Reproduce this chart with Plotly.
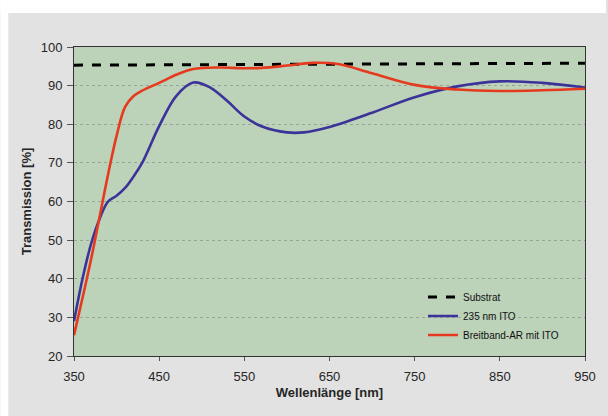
import plotly.graph_objects as go

# Data
substrat_nm = [350, 650, 950]
substrat_t = [95.3, 95.6, 95.8]

ito_nm = [350, 360, 370, 380, 390, 400, 410, 420, 430, 450, 470, 490, 510, 530,
          550, 570, 600, 620, 650, 700, 750, 800, 850, 900, 950]
ito_t = [29, 40, 49, 55.5, 60, 61.5, 63.5, 66.5, 70, 79.5, 87.3, 90.8, 89.5, 86,
         82, 79.5, 77.9, 77.9, 79.3, 83, 87, 89.8, 91.1, 90.7, 89.5]

ar_nm = [350, 370, 380, 390, 400, 410, 420, 430, 450, 470, 490, 520, 550, 570,
         600, 630, 660, 700, 750, 800, 850, 900, 950]
ar_t = [25.4, 45, 56, 67, 77, 84.5, 87.3, 88.7, 90.7, 92.8, 94.3, 94.7, 94.5, 94.6,
        95.2, 95.9, 95.6, 93.2, 90.2, 89, 88.6, 88.8, 89.2]

x_ticks = [350, 450, 550, 650, 750, 850, 950]
y_ticks = [20, 30, 40, 50, 60, 70, 80, 90, 100]

fig = go.Figure()
fig.add_trace(go.Scatter(x=substrat_nm, y=substrat_t, mode="lines", name="Substrat",
                         line=dict(color="black", width=3, dash="dash")))
fig.add_trace(go.Scatter(x=ito_nm, y=ito_t, mode="lines", name="235 nm ITO",
                         line=dict(color="#3b3399", width=2.6, shape="spline", smoothing=1.0)))
fig.add_trace(go.Scatter(x=ar_nm, y=ar_t, mode="lines", name="Breitband-AR mit ITO",
                         line=dict(color="#e63a1f", width=2.6, shape="spline", smoothing=1.0)))

L, R, T, B = 74, 21, 47, 60
W, H = 608, 416
pw = W - L - R
ph = H - T - B

# white bands (top and left) outside the plot area; rest of paper is gray
fig.add_shape(type="rect", xref="paper", yref="paper",
              x0=-L / pw, x1=(W - L) / pw,
              y0=(H - B - 13) / ph, y1=(H - B) / ph,
              fillcolor="white", line=dict(width=0), layer="below")
fig.add_shape(type="rect", xref="paper", yref="paper",
              x0=-L / pw, x1=(8 - L) / pw,
              y0=-B / ph, y1=(H - B) / ph,
              fillcolor="white", line=dict(width=0), layer="below")

fig.update_layout(
    width=W, height=H,
    margin=dict(l=L, r=R, t=T, b=B),
    paper_bgcolor="#e2e2e2",
    plot_bgcolor="#bcd3b9",
    font=dict(family="Liberation Sans, Arial, sans-serif", size=13, color="#262626"),
    showlegend=True,
    legend=dict(x=0.683, y=0.238, xanchor="left", yanchor="top",
                bgcolor="rgba(0,0,0,0)", font=dict(size=10, color="#111"),
                tracegroupgap=0, itemwidth=30),
    xaxis=dict(range=[350, 950], tickvals=x_ticks, ticks="outside", ticklen=4,
               tickcolor="#555", showgrid=False, zeroline=False, ticklabelstandoff=4,
               showline=True, linecolor="#333", linewidth=1, mirror=True,
               title=dict(text="<b>Wellenlänge [nm]</b>", font=dict(size=13), standoff=5)),
    yaxis=dict(range=[20, 100], tickvals=y_ticks, ticks="outside", ticklen=6,
               tickcolor="#555", showgrid=True, gridcolor="#9aa59a", griddash="dot",
               gridwidth=1, zeroline=False, ticklabelstandoff=2,
               showline=True, linecolor="#333", linewidth=1, mirror=True,
               title=dict(text="<b>Transmission [%]</b>", font=dict(size=13), standoff=6)),
)

fig.write_html("out.html", config={"displayModeBar": False},
               post_script="document.body.style.margin='0';document.body.style.overflow='hidden';")
